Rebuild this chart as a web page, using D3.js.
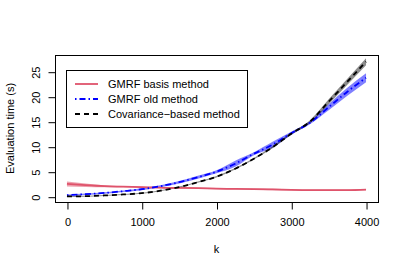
<!DOCTYPE html>
<html>
<head>
<meta charset="utf-8">
<script src="https://cdn.jsdelivr.net/npm/d3@7"></script>
<style>
  body { margin: 0; background: #fff; }
  text { font-family: "Liberation Sans", Arial, sans-serif; fill: #000; }
</style>
</head>
<body>
<script>
// --- data ---
const kValues = [0, 250, 500, 750, 1000, 1250, 1500, 1750, 2000, 2250, 2500, 2750, 3000, 3250, 3500, 3750, 4000];

const basisMean = [2.55, 2.3, 2.1, 2.0, 1.9, 1.8, 1.75, 1.7, 1.6, 1.55, 1.5, 1.45, 1.35, 1.3, 1.3, 1.3, 1.4];
const basisHalf = [0.5, 0.35, 0.2, 0.12, 0.12, 0.12, 0.12, 0.12, 0.12, 0.12, 0.12, 0.15, 0.12, 0.12, 0.12, 0.12, 0.12];

const oldMean = [0.3, 0.5, 0.75, 1.1, 1.5, 2.1, 2.9, 3.9, 5.0, 6.6, 8.6, 10.4, 12.7, 14.8, 17.9, 21.0, 23.8];
const oldHalf = [0.15, 0.15, 0.15, 0.15, 0.2, 0.2, 0.25, 0.3, 0.3, 0.6, 0.3, 0.6, 0.3, 0.3, 0.6, 0.8, 0.9];

const covMean = [0.05, 0.1, 0.25, 0.45, 0.7, 1.2, 1.9, 2.9, 4.0, 5.6, 7.6, 9.9, 12.6, 15.0, 19.0, 23.0, 27.0];
const covHalf = [0.1, 0.1, 0.1, 0.1, 0.1, 0.1, 0.12, 0.12, 0.15, 0.15, 0.15, 0.2, 0.2, 0.3, 0.5, 0.6, 0.7];

const xTicks = [0, 1000, 2000, 3000, 4000];
const yTicks = [0, 5, 10, 15, 20, 25];
const legendLabels = ["GMRF basis method", "GMRF old method", "Covariance\u2212based method"];

// --- layout ---
const W = 407, H = 271;
const box = {left: 55, right: 378, top: 55, bottom: 202};

const svg = d3.select("body").append("svg")
  .attr("width", W).attr("height", H);

const x = d3.scaleLinear().domain([-160, 4160]).range([box.left, box.right]);
const y = d3.scaleLinear().domain([-1.06, 28.34]).range([box.bottom, box.top]);

const series = [
  {mean: basisMean, half: basisHalf, color: "#DF536B", band: "rgba(223,83,107,0.55)", dash: null},
  {mean: oldMean, half: oldHalf, color: "#0000FF", band: "rgba(0,0,255,0.5)", dash: "1.5,3,6,3"},
  {mean: covMean, half: covHalf, color: "#000000", band: "rgba(0,0,0,0.45)", dash: "5,4"}
];

const plot = svg.append("g");

// bands first, then lines
series.forEach(s => {
  const pts = kValues.map((k, i) => ({k, lo: s.mean[i] - s.half[i], hi: s.mean[i] + s.half[i]}));
  plot.append("path")
    .datum(pts)
    .attr("fill", s.band)
    .attr("d", d3.area().x(d => x(d.k)).y0(d => y(d.lo)).y1(d => y(d.hi)).curve(d3.curveMonotoneX));
});
series.forEach(s => {
  const pts = kValues.map((k, i) => ({k, v: s.mean[i]}));
  plot.append("path")
    .datum(pts)
    .attr("fill", "none")
    .attr("stroke", s.color)
    .attr("stroke-width", 1.8)
    .attr("stroke-dasharray", s.dash)
    .attr("d", d3.line().x(d => x(d.k)).y(d => y(d.v)).curve(d3.curveMonotoneX));
});

// box
svg.append("rect")
  .attr("x", box.left + 0.5).attr("y", box.top + 0.5)
  .attr("width", box.right - box.left).attr("height", box.bottom - box.top)
  .attr("fill", "none").attr("stroke", "#000").attr("stroke-width", 1);

// x axis
const xAxis = svg.append("g")
  .attr("transform", `translate(0.5,${box.bottom + 0.5})`)
  .call(d3.axisBottom(x).tickValues(xTicks).tickFormat(d3.format("d"))
    .tickSize(7).tickPadding(9).tickSizeOuter(0));
xAxis.select(".domain").attr("d", `M${x(0)},0H${x(4000)}`);
xAxis.selectAll("text").style("font-size", "11px").style("font-family", "Liberation Sans, Arial, sans-serif");

// y axis with rotated labels
const yAxis = svg.append("g")
  .attr("transform", `translate(${box.left + 0.5},0.5)`)
  .call(d3.axisLeft(y).tickValues(yTicks).tickSize(7).tickSizeOuter(0));
yAxis.select(".domain").attr("d", `M0,${y(0)}V${y(25)}`);
yAxis.selectAll(".tick text")
  .attr("x", null).attr("dy", null)
  .attr("text-anchor", "middle")
  .attr("transform", "translate(-16,0) rotate(-90)")
  .style("font-size", "11px").style("font-family", "Liberation Sans, Arial, sans-serif");

// axis titles
svg.append("text")
  .attr("x", x(2000)).attr("y", 253)
  .attr("text-anchor", "middle").style("font-size", "11px")
  .text("k");
svg.append("text")
  .attr("transform", `translate(14,${(box.top + box.bottom) / 2}) rotate(-90)`)
  .attr("text-anchor", "middle").style("font-size", "11px")
  .text("Evaluation time (s)");

// legend
const legend = svg.append("g");
legend.append("rect")
  .attr("x", 66.5).attr("y", 70.5).attr("width", 181).attr("height", 57)
  .attr("fill", "#fff").attr("stroke", "#000");
legendLabels.forEach((lab, i) => {
  const ly = 84 + i * 15;
  legend.append("line")
    .attr("x1", 75).attr("x2", 98).attr("y1", ly).attr("y2", ly)
    .attr("stroke", series[i].color).attr("stroke-width", 1.8)
    .attr("stroke-dasharray", series[i].dash);
  legend.append("text")
    .attr("x", 108).attr("y", ly + 4)
    .style("font-size", "11px")
    .text(lab);
});
</script>
</body>
</html>
